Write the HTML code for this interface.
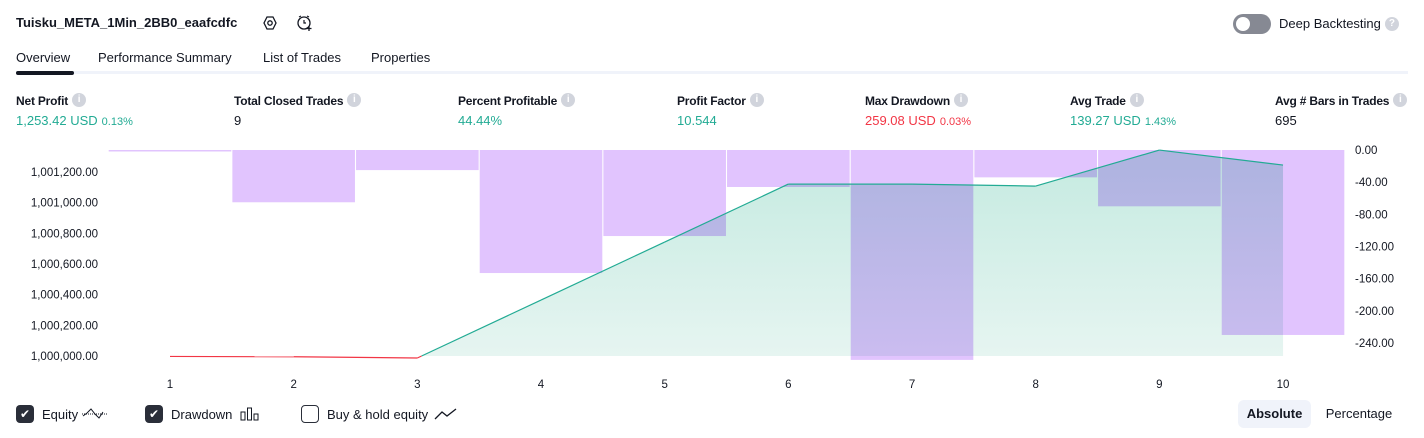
<!DOCTYPE html>
<html><head><meta charset="utf-8">
<style>
*{box-sizing:border-box;margin:0;padding:0}
body{width:1424px;height:438px;background:#fff;font-family:"Liberation Sans",sans-serif;color:#131722;position:relative;overflow:hidden;font-size:13px}
.abs{position:absolute;white-space:nowrap}
.info{display:inline-block;width:14px;height:14px;border-radius:50%;background:#d1d4dc;color:#fff;font-size:10px;text-align:center;line-height:14px;font-weight:bold;vertical-align:top;margin-left:4px;margin-top:-1px}
.lbl{font-size:12px;font-weight:bold;color:#131722;line-height:14px;letter-spacing:-0.2px}
.val{font-size:13px}
.g{color:#22ab94}.r{color:#f23645}
.small{font-size:11px;margin-left:4px}
.cb{display:inline-block;width:18px;height:18px;border-radius:4px}
.leg{display:flex;align-items:center;height:18px;top:405px}
</style></head><body>
<div class="abs" style="left:16px;top:15px;font-weight:bold;font-size:13px">Tuisku_META_1Min_2BB0_eaafcdfc</div>
<svg class="abs" style="left:262px;top:15px" width="16" height="16" viewBox="0 0 16 16"><polygon points="5,2 11,2 14,8 11,14 5,14 2,8" fill="none" stroke="#131722" stroke-width="1.3"/><circle cx="8" cy="8" r="2.2" fill="none" stroke="#131722" stroke-width="1.3"/></svg>
<svg class="abs" style="left:296px;top:14px" width="18" height="18" viewBox="0 0 18 18"><circle cx="8" cy="9" r="6" fill="none" stroke="#131722" stroke-width="1.3"/><path d="M8 6v3h2M3 3l2-1M13 3l-2-1" stroke="#131722" fill="none" stroke-width="1.2"/><path d="M13 12v5M10.5 14.5h5" stroke="#131722" stroke-width="1.3"/></svg>
<div class="abs" style="left:1233px;top:14px;width:38px;height:20px;border-radius:10px;background:#868993"><div style="position:absolute;left:3px;top:3px;width:14px;height:14px;border-radius:50%;background:#fff"></div></div>
<div class="abs" style="left:1279px;top:16px;font-size:13px;line-height:16px">Deep Backtesting<span class="info" style="font-size:10px;margin-top:1px">?</span></div>

<div class="abs" style="left:16px;top:50px">Overview</div>
<div class="abs" style="left:98px;top:50px">Performance Summary</div>
<div class="abs" style="left:263px;top:50px">List of Trades</div>
<div class="abs" style="left:371px;top:50px">Properties</div>
<div class="abs" style="left:16px;top:71px;width:1392px;height:3px;background:#f0f3fa"></div>
<div class="abs" style="left:16px;top:71px;width:58px;height:4px;border-radius:2px;background:#131722"></div>

<div class="abs" style="left:16px;top:94px"><div class="lbl">Net Profit<span class="info">i</span></div><div class="val g" style="margin-top:5px">1,253.42 USD<span class="small">0.13%</span></div></div>
<div class="abs" style="left:234px;top:94px"><div class="lbl">Total Closed Trades<span class="info">i</span></div><div class="val" style="margin-top:5px">9</div></div>
<div class="abs" style="left:458px;top:94px"><div class="lbl">Percent Profitable<span class="info">i</span></div><div class="val g" style="margin-top:5px">44.44%</div></div>
<div class="abs" style="left:677px;top:94px"><div class="lbl">Profit Factor<span class="info">i</span></div><div class="val g" style="margin-top:5px">10.544</div></div>
<div class="abs" style="left:865px;top:94px"><div class="lbl">Max Drawdown<span class="info">i</span></div><div class="val r" style="margin-top:5px">259.08 USD<span class="small">0.03%</span></div></div>
<div class="abs" style="left:1070px;top:94px"><div class="lbl">Avg Trade<span class="info">i</span></div><div class="val g" style="margin-top:5px">139.27 USD<span class="small">1.43%</span></div></div>
<div class="abs" style="left:1275px;top:94px"><div class="lbl">Avg # Bars in Trades<span class="info">i</span></div><div class="val" style="margin-top:5px">695</div></div>

<svg id="chart" class="abs" style="left:0;top:140px" width="1424" height="255"></svg>

<div class="abs leg" style="left:16px"><span class="cb" style="background:#2a2e39;color:#fff;text-align:center;line-height:18px;font-size:12px">✔</span><span style="margin-left:8px">Equity</span>
<svg width="26" height="14" style="margin-left:4px"><path d="M1 9 L5 6 L9 2 L13 7 L17 11 L21 5" fill="none" stroke="#131722" stroke-width="1"/><line x1="0" y1="7" x2="26" y2="7" stroke="#131722" stroke-dasharray="1,1"/></svg></div>
<div class="abs leg" style="left:145px"><span class="cb" style="background:#2a2e39;color:#fff;text-align:center;line-height:18px;font-size:12px">✔</span><span style="margin-left:8px">Drawdown</span>
<svg width="20" height="14" style="margin-left:8px"><rect x="1" y="5" width="4" height="8" fill="none" stroke="#131722"/><rect x="7.5" y="1" width="4" height="12" fill="none" stroke="#131722"/><rect x="14" y="7" width="4" height="6" fill="none" stroke="#131722"/></svg></div>
<div class="abs leg" style="left:301px"><span class="cb" style="border:1.5px solid #2a2e39"></span><span style="margin-left:8px">Buy &amp; hold equity</span>
<svg width="24" height="14" style="margin-left:6px"><path d="M1 12 L8 5 L13 9 L22 2" fill="none" stroke="#131722" stroke-width="1.3"/></svg></div>
<div class="abs" style="left:1238px;top:400px;width:73px;height:28px;border-radius:6px;background:#f0f3fa;font-weight:bold;text-align:center;line-height:28px">Absolute</div>
<div class="abs" style="left:1318px;top:400px;width:82px;height:28px;text-align:center;line-height:28px">Percentage</div>

<script>
const categories=[1,2,3,4,5,6,7,8,9,10];
const equityValues=[-3,-5,-13,365,743,1121,1121,1108,1343,1245];
const drawdownValues=[-1,-65,-25,-153,-107,-46,-261,-34,-70,-230];
const leftTicks=[0,200,400,600,800,1000,1200];
const rightTicks=[0,-40,-80,-120,-160,-200,-240];
const NS="http://www.w3.org/2000/svg";
const svg=document.getElementById('chart');
const OY=140;
function xPos(i){return 170+i*123.67;}
function yEq(v){return 356-OY-v*30.67/200;}
function yDd(v){return 150-OY-v*193/240;}
function mk(t,a){const e=document.createElementNS(NS,t);for(const k in a)e.setAttribute(k,a[k]);svg.appendChild(e);return e;}
const defs=mk('defs',{});
defs.innerHTML='<linearGradient id="gf" x1="0" y1="0" x2="0" y2="1"><stop offset="0" stop-color="#c4eae0"/><stop offset="1" stop-color="#e6f5f1"/></linearGradient>';
leftTicks.forEach(v=>{const t=mk('text',{x:98,y:yEq(v)+4,'text-anchor':'end','font-size':'11.5','fill':'#131722','font-family':'Liberation Sans, sans-serif'});


t.textContent=(1000000+v).toLocaleString('en-US')+'.00';});
rightTicks.forEach(v=>{const t=mk('text',{x:1355,y:yDd(v)+4,'font-size':'11.5','fill':'#131722','font-family':'Liberation Sans, sans-serif'});


t.textContent=v.toFixed(2);});
categories.forEach((c,i)=>{const t=mk('text',{x:xPos(i),y:248,'text-anchor':'middle','font-size':'11.5','fill':'#131722','font-family':'Liberation Sans, sans-serif'});


t.textContent=c;});
let pts=[];let firstPos=-1;
for(let i=0;i<equityValues.length;i++){
 if(equityValues[i]>=0){
  if(firstPos<0){firstPos=i;if(i>0){const a=equityValues[i-1],b=equityValues[i];const f=-a/(b-a);pts.push([xPos(i-1)+f*123.67,yEq(0)]);}}
  pts.push([xPos(i),yEq(equityValues[i])]);}
}
if(pts.length){const last=pts[pts.length-1];
 const d='M'+pts.map(p=>p.join(',')).join(' L')+' L'+last[0]+','+yEq(0)+' Z';
 const f=mk('path',{d:d,fill:'url(#gf)'});
 
 }
drawdownValues.forEach((v,i)=>{const y0=yDd(0),y1=yDd(v);
 const r=mk('rect',{x:xPos(i)-61.3,y:y0,width:122.6,height:Math.max(1.5,y1-y0),fill:'#e1c4fe',style:'mix-blend-mode:multiply'});
 
 });
for(let i=0;i<equityValues.length-1;i++){
 const a=equityValues[i],b=equityValues[i+1];
 if(a<0&&b>0){const f=-a/(b-a);const xm=xPos(i)+f*123.67;
  const l1=mk('line',{x1:xPos(i),y1:yEq(a),x2:xm,y2:yEq(0),stroke:'#f23645','stroke-width':1.2});
  
  
  const l2=mk('line',{x1:xm,y1:yEq(0),x2:xPos(i+1),y2:yEq(b),stroke:'#22ab94','stroke-width':1.2});
  
  
 } else {
  const l=mk('line',{x1:xPos(i),y1:yEq(a),x2:xPos(i+1),y2:yEq(b),stroke:(a<0&&b<=0)?'#f23645':'#22ab94','stroke-width':1.2});
  
  
 }
}
</script>
</body></html>
